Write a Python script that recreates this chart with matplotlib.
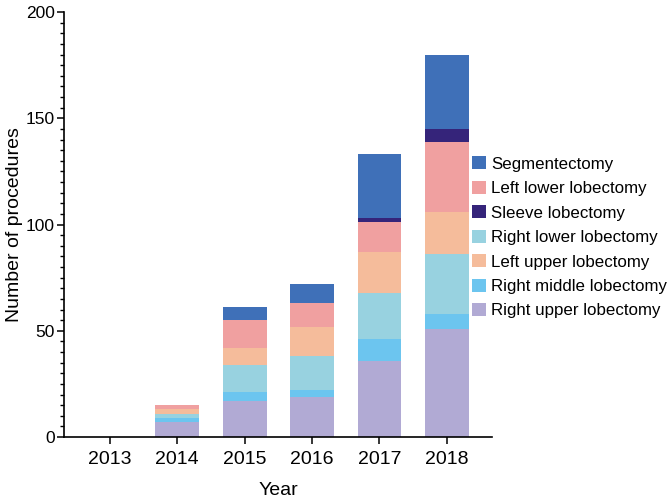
import numpy as np
import matplotlib.pyplot as plt
from matplotlib.patches import Patch
from matplotlib.ticker import MultipleLocator

plt.rcParams['font.family'] = ['Liberation Sans', 'DejaVu Sans']

# donnees
years = ['2013', '2014', '2015', '2016', '2017', '2018']
right_upper = [0, 7, 17, 19, 36, 51]
right_middle = [0, 2, 4, 3, 10, 7]
right_lower = [0, 2, 13, 16, 22, 28]
left_upper = [0, 2, 8, 14, 19, 20]
left_lower = [0, 2, 13, 11, 14, 33]
sleeve = [0, 0, 0, 0, 2, 6]
segmentectomy = [0, 0, 6, 9, 30, 35]

# ordre d'empilement (bas -> haut)
stack = [
    ("Right upper lobectomy", right_upper, '#B1AAD4'),
    ("Right middle lobectomy", right_middle, '#6CC5EF'),
    ("Right lower lobectomy", right_lower, '#98D2E0'),
    ("Left upper lobectomy", left_upper, '#F5BC9B'),
    ("Left lower lobectomy", left_lower, '#F0A0A0'),
    ("Sleeve lobectomy", sleeve, '#35247A'),
    ("Segmentectomy", segmentectomy, '#3F70B8'),
]
legend_order = ["Segmentectomy", "Left lower lobectomy", "Sleeve lobectomy",
                "Right lower lobectomy", "Left upper lobectomy",
                "Right middle lobectomy", "Right upper lobectomy"]

fig = plt.figure(figsize=(6.69, 5.01), dpi=100)
ax = fig.add_axes([0.0957, 0.1277, 0.6397, 0.8483])

x = np.arange(len(years))
bottom = np.zeros(len(years))
colors = {}
for name, vals, col in stack:
    vals = np.array(vals, dtype=float)
    ax.bar(x, vals, bottom=bottom, width=0.65, color=col, linewidth=0)
    bottom += vals
    colors[name] = col

ax.set_xlim(-0.68, 5.67)
ax.set_ylim(0, 200)
ax.set_xticks(x)
ax.set_xticklabels(years, fontsize=14)
ax.yaxis.set_major_locator(MultipleLocator(50))
ax.yaxis.set_minor_locator(MultipleLocator(5))
ax.tick_params(axis='y', labelsize=12.5, length=5, width=1.1, pad=1.5)
ax.tick_params(axis='y', which='minor', length=2.8, width=1.0)
ax.tick_params(axis='x', length=5, width=1.1, pad=5)

for s in ['top', 'right']:
    ax.spines[s].set_visible(False)
for s in ['left', 'bottom']:
    ax.spines[s].set_linewidth(1.2)

ax.set_xlabel("Year", fontsize=14, labelpad=10)
ax.set_ylabel("Number of procedures", fontsize=14, labelpad=2)

handles = [Patch(facecolor=colors[n], edgecolor='none') for n in legend_order]
fig.legend(handles, legend_order, loc='upper left', bbox_to_anchor=(0.706, 0.688),
           frameon=False, fontsize=12.2, handlelength=0.82, handleheight=0.82,
           handletextpad=0.28, labelspacing=0.53, borderpad=0, borderaxespad=0)

plt.savefig('out.png', dpi=100)
